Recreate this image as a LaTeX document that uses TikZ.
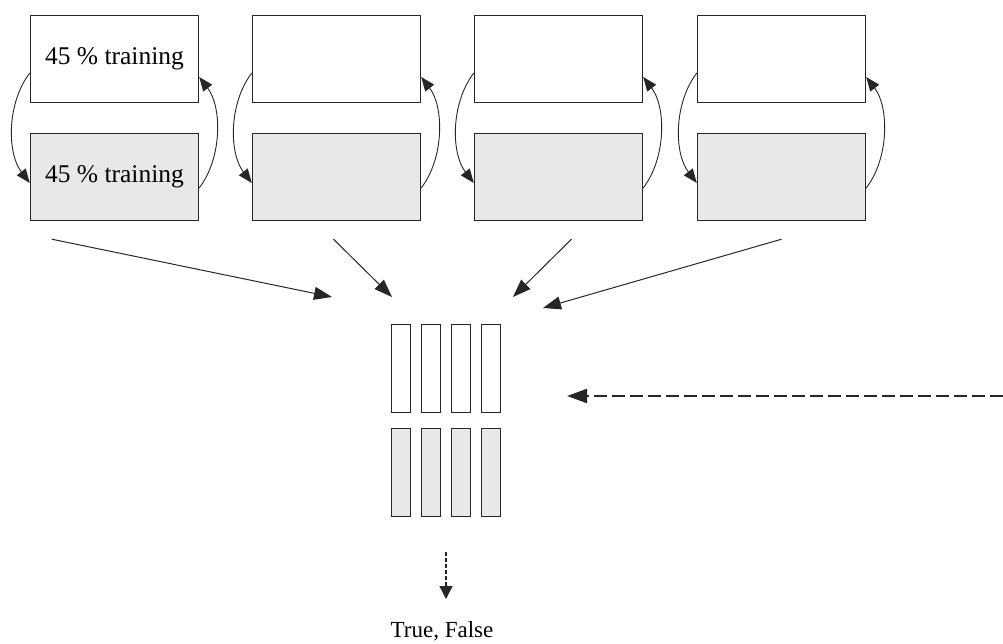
\documentclass[tikz,border=0pt]{standalone}
\usepackage{fontspec}
\setmainfont{Liberation Serif}
\usetikzlibrary{arrows.meta}
\definecolor{edge}{HTML}{262626}
\definecolor{shade}{HTML}{E8E8E8}
\tikzset{
 bigbox/.style={draw=edge,line width=1.4pt,minimum width=168pt,minimum height=87pt,inner sep=0pt,font=\fontsize{25.5}{29}\selectfont},
 bar/.style={draw=edge,line width=1.4pt,minimum width=19pt,minimum height=88pt,inner sep=0pt},
 arr/.style={-{Triangle[length=18pt,width=13pt]},line width=1pt,draw=edge},
 loop/.style={-{Triangle[length=14pt,width=11pt]},line width=0.9pt,draw=edge},
}
\begin{document}
\begin{tikzpicture}[x=1pt,y=-1pt]
 \useasboundingbox (0,0) rectangle (1003,644);
 % training / test pairs
 \node[bigbox] (t1) at (114.5,59) {45 \% training};
 \node[bigbox,fill=shade] (b1) at (114.5,177) {45 \% training};
 \node[bigbox] (t2) at (336.5,59) {};
 \node[bigbox,fill=shade] (b2) at (336.5,177) {};
 \node[bigbox] (t3) at (558.5,59) {};
 \node[bigbox,fill=shade] (b3) at (558.5,177) {};
 \node[bigbox] (t4) at (781.5,59) {};
 \node[bigbox,fill=shade] (b4) at (781.5,177) {};
 \foreach \i in {1,2,3,4}{
  \draw[loop] ([yshift=-14pt]t\i.west) .. controls +(-23,30) and +(-23,-30) .. ([yshift=-6pt]b\i.west);
  \draw[loop] ([yshift=-11pt]b\i.east) .. controls +(23,-30) and +(23,30) .. ([yshift=-18pt]t\i.east);
 }
 % small bars
 \node[bar] (s1) at (401,368.5) {};
 \node[bar] (s2) at (431,368.5) {};
 \node[bar] (s3) at (461,368.5) {};
 \node[bar] (s4) at (491,368.5) {};
 \node[bar,fill=shade] (r1) at (401,472.5) {};
 \node[bar,fill=shade] (r2) at (431,472.5) {};
 \node[bar,fill=shade] (r3) at (461,472.5) {};
 \node[bar,fill=shade] (r4) at (491,472.5) {};
 % arrows into the bars
 \coordinate (in1) at (332,297);
 \coordinate (in2) at (392,297);
 \coordinate (in3) at (513,297);
 \coordinate (in4) at (543,308);
 \draw[arr] ([xshift=22pt,yshift=-18pt]b1.south west) -- (in1);
 \draw[arr] ([xshift=-3pt,yshift=-18pt]b2.south) -- (in2);
 \draw[arr] ([xshift=13pt,yshift=-18pt]b3.south) -- (in3);
 \draw[arr] ([yshift=-18pt]b4.south) -- (in4);
 % dashed input
 \coordinate (feed) at (1003,396);
 \coordinate (feedin) at (567,396);
 \draw[-{Triangle[length=20pt,width=14pt]},line width=2.2pt,draw=edge,dash pattern=on 13pt off 5pt] (feed) -- (feedin);
 % result
 \coordinate (outtop) at (446,552);
 \coordinate (outend) at (446,599);
 \draw[-{Triangle[length=13pt,width=13pt]},line width=1.3pt,draw=edge,dash pattern=on 4pt off 2pt] (outtop) -- (outend);
 \node[font=\fontsize{23}{27}\selectfont,inner sep=0pt] (res) at (442,631) {True, False};
\end{tikzpicture}
\end{document}
